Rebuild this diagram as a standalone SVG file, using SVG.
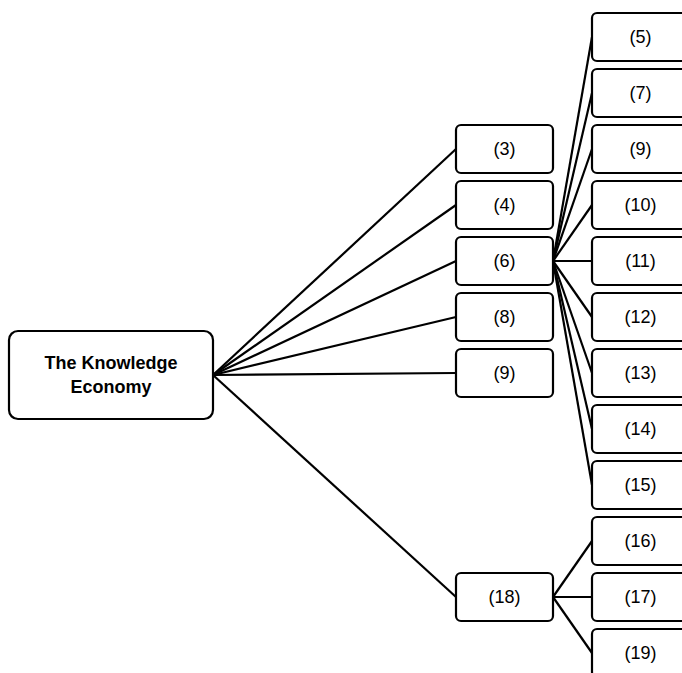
<svg xmlns="http://www.w3.org/2000/svg" width="682" height="673" viewBox="0 0 682 673">
<style>
.box{fill:#fff;stroke:#000;stroke-width:2.2}
.t{font-family:"Liberation Sans",Arial,sans-serif;font-size:18px;fill:#000;text-anchor:middle}
.b{font-weight:bold;font-size:18px}
#connectors line{stroke:#000;stroke-width:2.2}
</style>
<rect width="682" height="673" fill="#fff"/>
<g id="connectors">
<line x1="213" y1="375" x2="456" y2="149"/>
<line x1="213" y1="375" x2="456" y2="205"/>
<line x1="213" y1="375" x2="456" y2="261"/>
<line x1="213" y1="375" x2="456" y2="317"/>
<line x1="213" y1="375" x2="456" y2="373"/>
<line x1="213" y1="375" x2="456" y2="597"/>
<line x1="553" y1="261" x2="592" y2="37"/>
<line x1="553" y1="261" x2="592" y2="93"/>
<line x1="553" y1="261" x2="592" y2="149"/>
<line x1="553" y1="261" x2="592" y2="205"/>
<line x1="553" y1="261" x2="592" y2="261"/>
<line x1="553" y1="261" x2="592" y2="317"/>
<line x1="553" y1="261" x2="592" y2="373"/>
<line x1="553" y1="261" x2="592" y2="429"/>
<line x1="553" y1="261" x2="592" y2="485"/>
<line x1="553" y1="597" x2="592" y2="541"/>
<line x1="553" y1="597" x2="592" y2="597"/>
<line x1="553" y1="597" x2="592" y2="653"/>
</g>
<g id="root"><rect class="box" x="9" y="331" width="204" height="88" rx="9"/><text class="t b" x="111" y="369">The Knowledge</text><text class="t b" x="111" y="393">Economy</text></g>
<g id="n3"><rect class="box" x="456" y="125" width="97" height="48" rx="5"/><text class="t" x="504.5" y="155">(3)</text></g>
<g id="n4"><rect class="box" x="456" y="181" width="97" height="48" rx="5"/><text class="t" x="504.5" y="211">(4)</text></g>
<g id="n6"><rect class="box" x="456" y="237" width="97" height="48" rx="5"/><text class="t" x="504.5" y="267">(6)</text></g>
<g id="n8"><rect class="box" x="456" y="293" width="97" height="48" rx="5"/><text class="t" x="504.5" y="323">(8)</text></g>
<g id="n9a"><rect class="box" x="456" y="349" width="97" height="48" rx="5"/><text class="t" x="504.5" y="379">(9)</text></g>
<g id="n18"><rect class="box" x="456" y="573" width="97" height="48" rx="5"/><text class="t" x="504.5" y="603">(18)</text></g>
<g id="n5"><rect class="box" x="592" y="13" width="97" height="48" rx="5"/><text class="t" x="640.5" y="43">(5)</text></g>
<g id="n7"><rect class="box" x="592" y="69" width="97" height="48" rx="5"/><text class="t" x="640.5" y="99">(7)</text></g>
<g id="n9b"><rect class="box" x="592" y="125" width="97" height="48" rx="5"/><text class="t" x="640.5" y="155">(9)</text></g>
<g id="n10"><rect class="box" x="592" y="181" width="97" height="48" rx="5"/><text class="t" x="640.5" y="211">(10)</text></g>
<g id="n11"><rect class="box" x="592" y="237" width="97" height="48" rx="5"/><text class="t" x="640.5" y="267">(11)</text></g>
<g id="n12"><rect class="box" x="592" y="293" width="97" height="48" rx="5"/><text class="t" x="640.5" y="323">(12)</text></g>
<g id="n13"><rect class="box" x="592" y="349" width="97" height="48" rx="5"/><text class="t" x="640.5" y="379">(13)</text></g>
<g id="n14"><rect class="box" x="592" y="405" width="97" height="48" rx="5"/><text class="t" x="640.5" y="435">(14)</text></g>
<g id="n15"><rect class="box" x="592" y="461" width="97" height="48" rx="5"/><text class="t" x="640.5" y="491">(15)</text></g>
<g id="n16"><rect class="box" x="592" y="517" width="97" height="48" rx="5"/><text class="t" x="640.5" y="547">(16)</text></g>
<g id="n17"><rect class="box" x="592" y="573" width="97" height="48" rx="5"/><text class="t" x="640.5" y="603">(17)</text></g>
<g id="n19"><rect class="box" x="592" y="629" width="97" height="48" rx="5"/><text class="t" x="640.5" y="659">(19)</text></g>
</svg>
